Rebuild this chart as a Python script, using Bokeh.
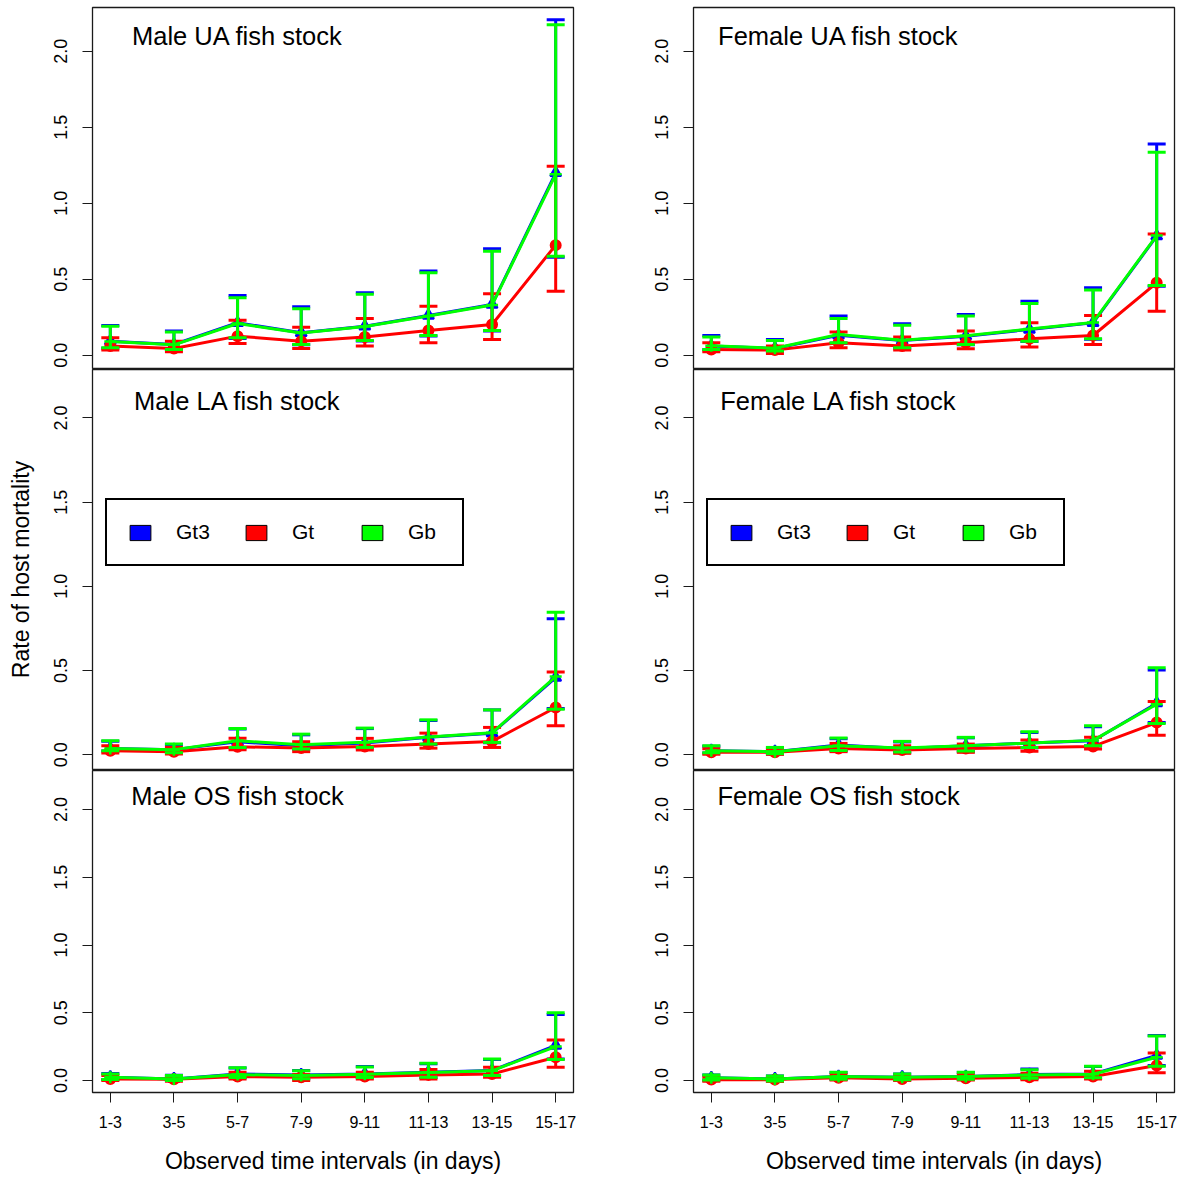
from bokeh.plotting import figure
from bokeh.models import (Range1d, FixedTicker, PrintfTickFormatter, ColumnDataSource,
                          Label, Legend, LegendItem)
from bokeh.layouts import column, row
from bokeh.embed import file_html
from bokeh.resources import INLINE

# ---------------- data ----------------
intervals = ["1-3", "3-5", "5-7", "7-9", "9-11", "11-13", "13-15", "15-17"]
series_names = ["Gt3", "Gt", "Gb"]
panel_titles = ["Male UA fish stock", "Female UA fish stock",
                "Male LA fish stock", "Female LA fish stock",
                "Male OS fish stock", "Female OS fish stock"]

# Male UA
male_ua_gt3_mean = [0.092, 0.070, 0.213, 0.147, 0.190, 0.261, 0.333, 1.200]
male_ua_gt3_hi = [0.195, 0.158, 0.393, 0.318, 0.410, 0.553, 0.700, 2.208]
male_ua_gt3_lo = [0.045, 0.035, 0.110, 0.068, 0.093, 0.126, 0.158, 0.645]
male_ua_gt_mean = [0.060, 0.044, 0.125, 0.092, 0.120, 0.162, 0.202, 0.724]
male_ua_gt_hi = [0.114, 0.092, 0.230, 0.184, 0.241, 0.322, 0.404, 1.243]
male_ua_gt_lo = [0.033, 0.022, 0.077, 0.044, 0.060, 0.081, 0.103, 0.421]
male_ua_gb_mean = [0.090, 0.068, 0.208, 0.145, 0.188, 0.258, 0.330, 1.190]
male_ua_gb_hi = [0.190, 0.153, 0.377, 0.305, 0.400, 0.542, 0.684, 2.175]
male_ua_gb_lo = [0.048, 0.037, 0.114, 0.070, 0.096, 0.129, 0.162, 0.651]

# Female UA
female_ua_gt3_mean = [0.060, 0.044, 0.130, 0.096, 0.125, 0.169, 0.213, 0.783]
female_ua_gt3_hi = [0.130, 0.103, 0.257, 0.206, 0.268, 0.355, 0.443, 1.390]
female_ua_gt3_lo = [0.035, 0.025, 0.078, 0.046, 0.068, 0.090, 0.104, 0.454]
female_ua_gt_mean = [0.037, 0.033, 0.081, 0.060, 0.081, 0.107, 0.129, 0.476]
female_ua_gt_hi = [0.081, 0.060, 0.153, 0.120, 0.158, 0.213, 0.261, 0.798]
female_ua_gt_lo = [0.022, 0.011, 0.048, 0.033, 0.042, 0.053, 0.070, 0.289]
female_ua_gb_mean = [0.062, 0.045, 0.136, 0.098, 0.127, 0.172, 0.215, 0.787]
female_ua_gb_hi = [0.120, 0.096, 0.241, 0.197, 0.257, 0.340, 0.428, 1.336]
female_ua_gb_lo = [0.037, 0.027, 0.081, 0.048, 0.070, 0.092, 0.107, 0.458]

# Male LA
male_la_gt3_mean = [0.037, 0.030, 0.077, 0.053, 0.069, 0.103, 0.128, 0.458]
male_la_gt3_hi = [0.080, 0.061, 0.152, 0.118, 0.155, 0.203, 0.266, 0.807]
male_la_gt3_lo = [0.022, 0.010, 0.041, 0.032, 0.041, 0.061, 0.071, 0.274]
male_la_gt_mean = [0.024, 0.018, 0.047, 0.039, 0.049, 0.063, 0.079, 0.280]
male_la_gt_hi = [0.053, 0.043, 0.097, 0.077, 0.097, 0.128, 0.162, 0.491]
male_la_gt_lo = [0.010, 0.004, 0.030, 0.018, 0.028, 0.039, 0.043, 0.172]
male_la_gb_mean = [0.037, 0.030, 0.083, 0.059, 0.074, 0.105, 0.130, 0.464]
male_la_gb_hi = [0.083, 0.063, 0.156, 0.122, 0.158, 0.207, 0.266, 0.846]
male_la_gb_lo = [0.024, 0.012, 0.043, 0.034, 0.043, 0.063, 0.073, 0.270]

# Female LA
female_la_gt3_mean = [0.024, 0.018, 0.057, 0.037, 0.053, 0.069, 0.083, 0.306]
female_la_gt3_hi = [0.050, 0.041, 0.095, 0.076, 0.100, 0.132, 0.166, 0.503]
female_la_gt3_lo = [0.010, 0.004, 0.023, 0.014, 0.020, 0.041, 0.051, 0.191]
female_la_gt_mean = [0.014, 0.014, 0.037, 0.028, 0.037, 0.043, 0.049, 0.191]
female_la_gt_hi = [0.035, 0.030, 0.067, 0.053, 0.063, 0.087, 0.103, 0.316]
female_la_gt_lo = [0.002, 0.002, 0.018, 0.008, 0.014, 0.020, 0.034, 0.116]
female_la_gb_mean = [0.024, 0.018, 0.053, 0.040, 0.053, 0.069, 0.085, 0.300]
female_la_gb_hi = [0.053, 0.043, 0.099, 0.079, 0.103, 0.136, 0.172, 0.517]
female_la_gb_lo = [0.012, 0.006, 0.025, 0.016, 0.022, 0.043, 0.053, 0.185]

# Male OS
male_os_gt3_mean = [0.025, 0.012, 0.049, 0.042, 0.049, 0.062, 0.074, 0.259]
male_os_gt3_hi = [0.052, 0.040, 0.092, 0.074, 0.103, 0.125, 0.155, 0.488]
male_os_gt3_lo = [0.008, 0.000, 0.020, 0.012, 0.020, 0.022, 0.035, 0.160]
male_os_gt_mean = [0.012, 0.010, 0.030, 0.025, 0.030, 0.042, 0.049, 0.172]
male_os_gt_hi = [0.037, 0.030, 0.062, 0.044, 0.062, 0.081, 0.099, 0.300]
male_os_gt_lo = [0.000, -0.005, 0.012, 0.000, 0.012, 0.012, 0.025, 0.099]
male_os_gb_mean = [0.025, 0.012, 0.044, 0.037, 0.046, 0.060, 0.072, 0.251]
male_os_gb_hi = [0.049, 0.037, 0.094, 0.072, 0.100, 0.128, 0.160, 0.500]
male_os_gb_lo = [0.008, 0.000, 0.022, 0.014, 0.022, 0.025, 0.037, 0.155]

# Female OS
female_os_gt3_mean = [0.020, 0.012, 0.030, 0.025, 0.030, 0.044, 0.049, 0.185]
female_os_gt3_hi = [0.042, 0.034, 0.060, 0.049, 0.060, 0.086, 0.103, 0.333]
female_os_gt3_lo = [0.002, -0.005, 0.008, 0.005, 0.008, 0.015, 0.018, 0.111]
female_os_gt_mean = [0.007, 0.007, 0.020, 0.012, 0.017, 0.025, 0.030, 0.111]
female_os_gt_hi = [0.025, 0.020, 0.044, 0.030, 0.044, 0.054, 0.069, 0.204]
female_os_gt_lo = [-0.005, -0.007, 0.005, 0.000, 0.005, 0.007, 0.012, 0.057]
female_os_gb_mean = [0.020, 0.012, 0.030, 0.025, 0.030, 0.042, 0.047, 0.172]
female_os_gb_hi = [0.042, 0.034, 0.062, 0.049, 0.062, 0.079, 0.106, 0.328]
female_os_gb_lo = [0.004, -0.003, 0.010, 0.006, 0.010, 0.018, 0.020, 0.106]

panels = [
    [(male_ua_gt3_mean, male_ua_gt3_lo, male_ua_gt3_hi),
     (male_ua_gt_mean, male_ua_gt_lo, male_ua_gt_hi),
     (male_ua_gb_mean, male_ua_gb_lo, male_ua_gb_hi)],
    [(female_ua_gt3_mean, female_ua_gt3_lo, female_ua_gt3_hi),
     (female_ua_gt_mean, female_ua_gt_lo, female_ua_gt_hi),
     (female_ua_gb_mean, female_ua_gb_lo, female_ua_gb_hi)],
    [(male_la_gt3_mean, male_la_gt3_lo, male_la_gt3_hi),
     (male_la_gt_mean, male_la_gt_lo, male_la_gt_hi),
     (male_la_gb_mean, male_la_gb_lo, male_la_gb_hi)],
    [(female_la_gt3_mean, female_la_gt3_lo, female_la_gt3_hi),
     (female_la_gt_mean, female_la_gt_lo, female_la_gt_hi),
     (female_la_gb_mean, female_la_gb_lo, female_la_gb_hi)],
    [(male_os_gt3_mean, male_os_gt3_lo, male_os_gt3_hi),
     (male_os_gt_mean, male_os_gt_lo, male_os_gt_hi),
     (male_os_gb_mean, male_os_gb_lo, male_os_gb_hi)],
    [(female_os_gt3_mean, female_os_gt3_lo, female_os_gt3_hi),
     (female_os_gt_mean, female_os_gt_lo, female_os_gt_hi),
     (female_os_gb_mean, female_os_gb_lo, female_os_gb_hi)],
]

# ---------------- styling ----------------
FONT = "Liberation Sans"
colors = ["#0000FF", "#FF0000", "#00FF00"]
markers = ["triangle", "circle", "cross"]
marker_sizes = [11, 10, 12]
marker_lw = [2, 2, 2.5]

x_pos = list(range(1, len(intervals) + 1))
XR = (0.72, 8.28)
YR = (-0.088, 2.288)

# rows: (height, min_border_top, min_border_bottom)
row_specs = [(369, 7, 1), (401, 0, 1), (407, 0, 85)]
col_specs = [(633, 92, 60), (551, 60, 10)]
NAN = float("nan")


def make_panel(idx):
    r, c = divmod(idx, 2)
    h, bt, bb = row_specs[r]
    w, bl, br = col_specs[c]
    bottom_row = (r == 2)
    p = figure(width=w, height=h, output_backend="svg", toolbar_location=None,
               x_range=Range1d(*XR), y_range=Range1d(*YR),
               x_axis_location="below" if bottom_row else None,
               min_border_left=bl, min_border_right=br,
               min_border_top=bt, min_border_bottom=bb,
               background_fill_color="white", border_fill_color="white")
    p.outline_line_color = "#1a1a1a"
    p.outline_line_width = 1.3
    p.xgrid.grid_line_color = None
    p.ygrid.grid_line_color = None

    # y axis
    yax = p.yaxis[0]
    yax.ticker = FixedTicker(ticks=[0, 0.5, 1.0, 1.5, 2.0])
    yax.formatter = PrintfTickFormatter(format="%.1f")
    yax.bounds = (0, 2)
    yax.major_tick_out = 10
    yax.major_tick_in = 0
    yax.minor_tick_line_color = None
    yax.major_label_orientation = "vertical"
    yax.major_label_text_font = FONT
    yax.major_label_text_font_size = "18px"
    yax.major_label_text_color = "black"
    yax.major_label_standoff = 15
    yax.axis_line_color = "#1a1a1a"
    yax.major_tick_line_color = "#1a1a1a"
    if idx == 2:
        yax.axis_label = "Rate of host mortality"
        yax.axis_label_text_font = FONT
        yax.axis_label_text_font_size = "23px"
        yax.axis_label_text_font_style = "normal"
        yax.axis_label_text_color = "black"
        yax.axis_label_standoff = 18

    if bottom_row:
        xax = p.xaxis[0]
        xax.ticker = FixedTicker(ticks=x_pos)
        xax.major_label_overrides = {i: lab for i, lab in zip(x_pos, intervals)}
        xax.bounds = (1, 8)
        xax.major_tick_out = 10
        xax.major_tick_in = 0
        xax.minor_tick_line_color = None
        xax.major_label_text_font = FONT
        xax.major_label_text_font_size = "16px"
        xax.major_label_text_color = "black"
        xax.major_label_standoff = 13
        xax.axis_line_color = "#1a1a1a"
        xax.major_tick_line_color = "#1a1a1a"
        xax.axis_label = "Observed time intervals (in days)"
        xax.axis_label_text_font = FONT
        xax.axis_label_text_font_size = "23px"
        xax.axis_label_text_font_style = "normal"
        xax.axis_label_text_color = "black"
        xax.axis_label_standoff = 17

    # series: Gt3, Gt, Gb
    for s, (mean, lo, hi) in enumerate(panels[idx]):
        src = ColumnDataSource(dict(x=x_pos, m=mean, lo=lo, hi=hi))
        col = colors[s]
        p.line("x", "m", source=src, line_color=col, line_width=3)
        p.segment(x0="x", y0="lo", x1="x", y1="hi", source=src,
                  line_color=col, line_width=3)
        p.scatter("x", "hi", source=src, marker="dash", size=18,
                  line_color=col, line_width=3)
        p.scatter("x", "lo", source=src, marker="dash", size=18,
                  line_color=col, line_width=3)
        p.scatter("x", "m", source=src, marker=markers[s], size=marker_sizes[s],
                  fill_color=col, line_color=col, line_width=marker_lw[s])

    p.add_layout(Label(x=3, y=2.1, text=panel_titles[idx], text_align="center",
                       text_baseline="middle", text_font=FONT,
                       text_font_size="25.5px", text_color="black"))

    if r == 1:
        items = []
        for s, name in enumerate(series_names):
            rr = p.quad(left=[NAN], right=[NAN], top=[NAN], bottom=[NAN],
                        fill_color=colors[s], line_color="black", line_width=1)
            items.append(LegendItem(label=name, renderers=[rr]))
        leg = Legend(items=items, orientation="horizontal", location=(13, 203),
                     glyph_width=26, glyph_height=19, label_standoff=23,
                     label_width=34, spacing=33, padding=20,
                     border_line_color="black", border_line_width=2.5,
                     border_line_alpha=1.0,
                     background_fill_color="white", background_fill_alpha=1,
                     label_text_font=FONT, label_text_font_size="21px",
                     label_text_color="black")
        p.add_layout(leg)
    return p


figs = [make_panel(i) for i in range(6)]
layout = column(row(figs[0], figs[1]), row(figs[2], figs[3]), row(figs[4], figs[5]))

open("out.html", "w").write(file_html(layout, INLINE))
